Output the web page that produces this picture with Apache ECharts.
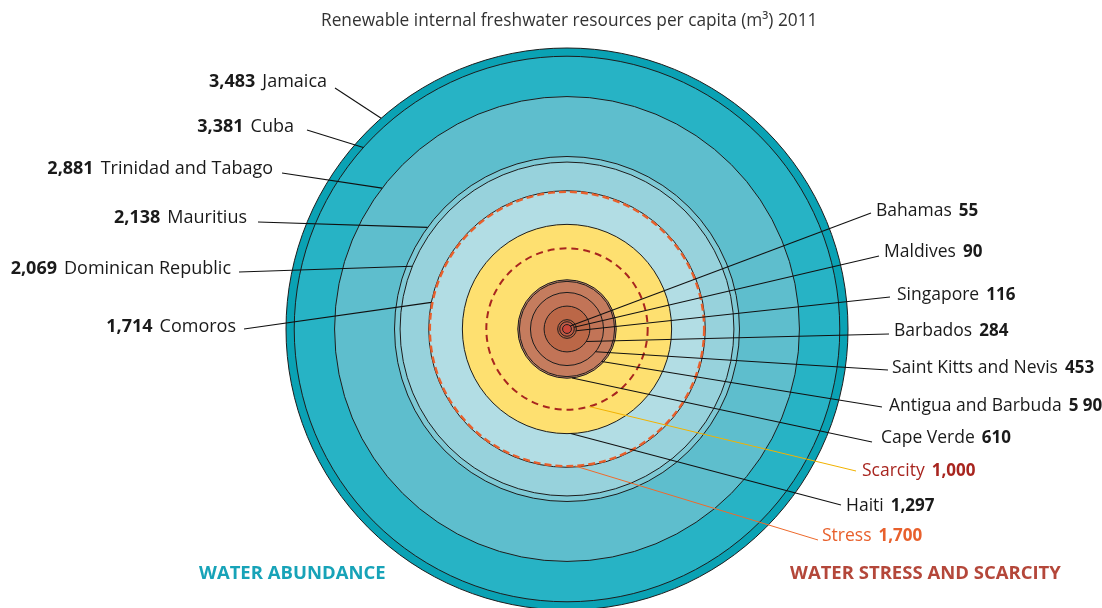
<!DOCTYPE html>
<html><head><meta charset="utf-8">
<script src="https://cdn.jsdelivr.net/npm/echarts@6/dist/echarts.min.js"></script>
<style>html,body{margin:0;padding:0;background:#fff}#c{width:1102px;height:608px}</style>
</head><body><div id="c"></div>
<script>
// ---- data ----
const countries = ['Jamaica','Cuba','Trinidad and Tabago','Mauritius','Dominican Republic','Comoros','Haiti','Cape Verde','Antigua and Barbuda','Saint Kitts and Nevis','Barbados','Singapore','Maldives','Bahamas'];
const values = [3483,3381,2881,2138,2069,1714,1297,610,590,453,284,116,90,55];
const valueLabels = ['3,483','3,381','2,881','2,138','2,069','1,714','1,297','610','5 90','453','284','116','90','55'];
const thresholdNames = ['Stress','Scarcity'];
const thresholdValues = [1700,1000];
const thresholdLabels = ['1,700','1,000'];
const titleText = 'Renewable internal freshwater resources per capita (m\u00b3) 2011';
const zoneLeft = 'WATER ABUNDANCE';
const zoneRight = 'WATER STRESS AND SCARCITY';

// ---- styles / layout ----
const fills = ['#0aa2b4','#27b3c5','#5ebecd','#7ec9d5','#97d2dc','#b2dde4','#fee070','#c8866a','#c57c5e','#c27457','#bb6747','#b95f41','#bf5a45','#c9463a'];
// angle (deg, screen coords) where the leader meets the circle, label line end, text anchor, side
const lay = [
  {a:-131.4, lx:335, ly:88,  tx:327, ty:82,  s:'L'},
  {a:-138.3, lx:307, ly:130, tx:294, ty:127, s:'L'},
  {a:-142.7, lx:282, ly:173, tx:273, ty:169, s:'L'},
  {a:-143.9, lx:258, ly:222, tx:247, ty:218, s:'L'},
  {a:-157.9, lx:239, ly:272, tx:231, ty:269, s:'L'},
  {a:-168.9, lx:244, ly:329, tx:236, ty:327, s:'L'},
  {a:88,     lx:841, ly:505, tx:846, ty:506, s:'R'},
  {a:84,     lx:872, ly:442, tx:881, ty:438, s:'R'},
  {a:43,     lx:882, ly:407, tx:889, ty:406, s:'R'},
  {a:38.5,   lx:888, ly:370, tx:892, ty:368, s:'R'},
  {a:33,     lx:889, ly:334, tx:894, ty:331, s:'R'},
  {a:11,     lx:890, ly:297, tx:897, ty:295, s:'R'},
  {a:-14,    lx:879, ly:256, tx:884, ty:252, s:'R'},
  {a:-42,    lx:871, ly:213, tx:876, ty:211, s:'R'}
];
const thrStyle = [
  {color:'#e8602c', line:'#ee6a2c', a:86.7, lx:818, ly:540, tx:822, ty:536, dash:[7,4], w:2.4},
  {color:'#a8251f', line:'#f2b200', a:74,   lx:856, ly:471, tx:862, ty:471, dash:[7,5], w:2}
];
const FONT = 'Open Sans';

const chart = echarts.init(document.getElementById('c'), null, {renderer:'canvas'});
function geom(api, v){
  const c = api.coord([0,0]);
  const e = api.coord([v,0]);
  return {cx:c[0], cy:c[1], r:e[0]-c[0]};
}
function richText(name, val, side, nameColor, valColor){
  const left = side==='L';
  return {
    text: left ? '{v|'+val+'}{n|'+name+'}' : '{n|'+name+'}{v|'+val+'}',
    rich: {
      v:{fontFamily:FONT, fontSize:left?18:17, fontWeight:'bold', fill:valColor, padding:left?[0,7,0,0]:[0,0,0,7]},
      n:{fontFamily:FONT, fontSize:left?18:17.5, fill:nameColor}
    }
  };
}
const option = {
  animation:false,
  backgroundColor:'#fff',
  title:{text:titleText, left:316, top:8, textStyle:{fontFamily:FONT, fontSize:17.3, fontWeight:'normal', color:'#333'}},
  grid:{left:286, top:50, width:562, height:562, containLabel:false},
  xAxis:{type:'value', min:-3483, max:3483, show:false},
  yAxis:{type:'value', min:-3483, max:3483, show:false},
  graphic:[
    {type:'text', left:199, top:564, style:{text:zoneLeft, font:'bold 18.5px "Open Sans"', fill:'#17a3b8'}},
    {type:'text', left:790, top:564, style:{text:zoneRight, font:'bold 18.5px "Open Sans"', fill:'#b4473a'}}
  ],
  series:[
    {
      type:'custom', z:1, clip:false,
      data: values.map(v=>[v,0]),
      renderItem:(p, api)=>{
        const g = geom(api, api.value(0));
        return {type:'circle', shape:g, style:{fill:fills[p.dataIndex], stroke:'#1d1d1d', lineWidth:1}};
      }
    },
    {
      type:'custom', z:2, clip:false,
      data: thresholdValues.map(v=>[v,0]),
      renderItem:(p, api)=>{
        const g = geom(api, api.value(0));
        const st = thrStyle[p.dataIndex];
        const rad = st.a*Math.PI/180;
        const px = g.cx + g.r*Math.cos(rad), py = g.cy + g.r*Math.sin(rad);
        const rt = richText(thresholdNames[p.dataIndex], thresholdLabels[p.dataIndex], 'R', st.color, st.color);
        return {type:'group', children:[
          {type:'circle', shape:g, style:{fill:null, stroke:st.color, lineWidth:st.w, lineDash:st.dash}},
          {type:'line', shape:{x1:px,y1:py,x2:st.lx,y2:st.ly}, style:{stroke:st.line, lineWidth:1}, z2:5},
          {type:'text', style:{text:rt.text, rich:rt.rich, x:st.tx, y:st.ty, align:'left', verticalAlign:'middle'}, z2:6}
        ]};
      }
    },
    {
      type:'custom', z:3, clip:false,
      data: values.map(v=>[v,0]),
      renderItem:(p, api)=>{
        const i = p.dataIndex;
        const g = geom(api, api.value(0));
        const L = lay[i];
        const rad = L.a*Math.PI/180;
        const px = g.cx + g.r*Math.cos(rad), py = g.cy + g.r*Math.sin(rad);
        const rt = richText(countries[i], valueLabels[i], L.s, '#1a1a1a', '#1a1a1a');
        return {type:'group', children:[
          {type:'line', shape:{x1:px,y1:py,x2:L.lx,y2:L.ly}, style:{stroke:'#111', lineWidth:1.1}},
          {type:'text', style:{text:rt.text, rich:rt.rich, x:L.tx, y:L.ty, align:L.s==='L'?'right':'left', verticalAlign:'middle'}}
        ]};
      }
    }
  ]
};
chart.setOption(option);
</script>
</body></html>
